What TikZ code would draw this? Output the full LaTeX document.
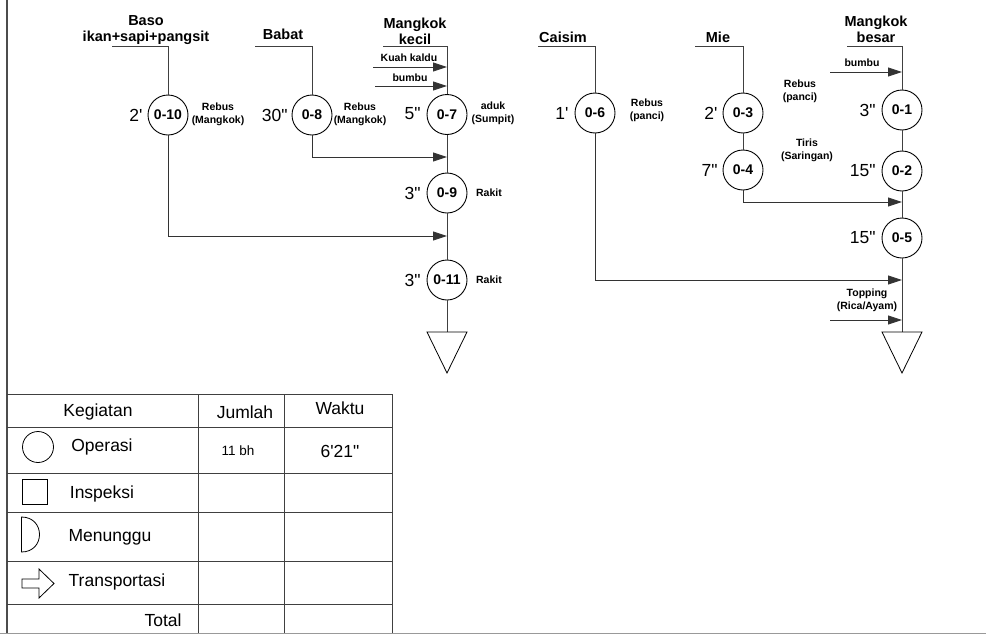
\documentclass[tikz,border=0pt]{standalone}
\usepackage{fontspec}
\setmainfont{Liberation Sans}[Ligatures=TeXOff]
\usetikzlibrary{arrows.meta}
\begin{document}
\begin{tikzpicture}[x=1pt,y=-1pt,
  line width=0.9pt,
  flow/.style={draw=black!75},
  feed/.style={draw=black!80,-{Triangle[length=14pt,width=9pt]}},
  op/.style={circle,draw=black,line width=0.9pt,minimum size=40pt,inner sep=0pt,
             font=\fontsize{14}{16}\selectfont\bfseries},
  tm/.style={anchor=east,inner sep=0pt,font=\fontsize{17.5}{19}\selectfont},
  note/.style={align=center,inner sep=0pt,font=\fontsize{10.5}{13}\selectfont\bfseries},
  src/.style={align=center,inner sep=0pt,font=\fontsize{14.5}{16}\selectfont\bfseries},
  cell/.style={inner sep=0pt,font=\fontsize{17.5}{20}\selectfont},
  grid/.style={draw=black!75,line width=1pt},
  sym/.style={draw=black,line width=0.8pt},
]
\useasboundingbox (0,0) rectangle (986,635);

% page frame
\draw[draw=black!70,line width=1.2pt] (7,0) -- (7,633);
\draw[draw=black!40,line width=1.5pt] (0,633.5) -- (986,633.5);

% ---------- Baso ----------
\node[src] (baso) at (146,30) {Baso\\ikan+sapi+pangsit};
\coordinate (basoL) at (112,46);
\coordinate (basoC) at (168,46);
\node[op] (o10) at (168,115) {0-10};
\node[tm] (t10) at (143,115) {2'};
\node[note] (n10) at (218,114) {Rebus\\(Mangkok)};
\draw[flow] (basoL) -- (basoC) -- (o10);

% ---------- Babat ----------
\node[src] (babat) at (283,34) {Babat};
\coordinate (babatL) at (255,46);
\coordinate (babatC) at (312,46);
\node[op] (o8) at (312,115) {0-8};
\node[tm] (t8) at (288,115) {30"};
\node[note] (n8) at (360,114) {Rebus\\(Mangkok)};
\draw[flow] (babatL) -- (babatC) -- (o8);

% ---------- Mangkok kecil ----------
\node[src] (mk) at (415,31) {Mangkok\\kecil};
\coordinate (mkL) at (383,46);
\coordinate (mkC) at (447,46);
\node[note] (kuah) at (409,58) {Kuah kaldu};
\coordinate (kuahL) at (373,67);
\coordinate (kuahJ) at (447,67);
\node[note] (bumbuA) at (410,78) {bumbu};
\coordinate (bumbuAL) at (375,86);
\coordinate (bumbuAJ) at (447,86);
\node[op] (o7) at (447,114.5) {0-7};
\node[tm] (t7) at (421,114) {5"};
\node[note] (n7) at (493,113) {aduk\\(Sumpit)};
\node[op] (o9) at (447,193) {0-9};
\node[tm] (t9) at (421,193) {3"};
\node[note] (n9) at (489,193) {Rakit};
\node[op] (o11) at (447,280) {0-11};
\node[tm] (t11) at (421,280) {3"};
\node[note] (n11) at (489,280) {Rakit};
\coordinate (triA) at (447,332);
\coordinate (j8) at (447,157);
\coordinate (j10) at (447,236);

\draw[flow] (mkL) -- (mkC) -- (o7);
\draw[feed] (kuahL) -- (kuahJ);
\draw[feed] (bumbuAL) -- (bumbuAJ);
\draw[flow] (o7) -- (o9);
\draw[flow] (o9) -- (o11);
\draw[flow] (o11) -- (triA);
\draw[sym] (427,332) -- (467,332) -- (447,373) -- cycle;
\draw[feed] (o8.south) |- (j8);
\draw[feed] (o10.south) |- (j10);

% ---------- Caisim ----------
\node[src] (caisim) at (563,37) {Caisim};
\coordinate (caisimL) at (538,46);
\coordinate (caisimC) at (595,46);
\node[op] (o6) at (595,113) {0-6};
\node[tm] (t6) at (569,113) {1'};
\node[note] (n6) at (647,110) {Rebus\\(panci)};
\draw[flow] (caisimL) -- (caisimC) -- (o6);

% ---------- Mie ----------
\node[src] (mie) at (718,37) {Mie};
\coordinate (mieL) at (695,46);
\coordinate (mieC) at (743,46);
\node[op] (o3) at (743,113) {0-3};
\node[tm] (t3) at (718,113) {2'};
\node[note] (n3) at (800,91) {Rebus\\(panci)};
\node[op] (o4) at (743,170) {0-4};
\node[tm] (t4) at (718,170) {7"};
\node[note] (n4) at (807,150) {Tiris\\(Saringan)};
\draw[flow] (mieL) -- (mieC) -- (o3);
\draw[flow] (o3) -- (o4);

% ---------- Mangkok besar ----------
\node[src] (mb) at (876,29) {Mangkok\\besar};
\coordinate (mbL) at (847,46);
\coordinate (mbC) at (902,46);
\node[note] (bumbuB) at (862,63) {bumbu};
\coordinate (bumbuBL) at (830,72);
\coordinate (bumbuBJ) at (902,72);
\node[op] (o1) at (902,110) {0-1};
\node[tm] (t1) at (876,110) {3"};
\node[op] (o2) at (902,171) {0-2};
\node[tm] (t2) at (876,171) {15"};
\node[op] (o5) at (902,238) {0-5};
\node[tm] (t5) at (876,238) {15"};
\node[note] (top) at (867,300) {Topping\\(Rica/Ayam)};
\coordinate (topL) at (830,320);
\coordinate (topJ) at (902,320);
\coordinate (j4) at (902,202);
\coordinate (j6) at (902,280);
\coordinate (triB) at (902,332);

\draw[flow] (mbL) -- (mbC) -- (o1);
\draw[feed] (bumbuBL) -- (bumbuBJ);
\draw[flow] (o1) -- (o2);
\draw[flow] (o2) -- (o5);
\draw[flow] (o5) -- (triB);
\draw[sym] (882,332) -- (922,332) -- (902,373) -- cycle;
\draw[feed] (o4.south) |- (j4);
\draw[feed] (o6.south) |- (j6);
\draw[feed] (topL) -- (topJ);

% ---------- summary table ----------
\draw[grid] (7,394) -- (392,394);
\foreach \yy in {427,473,512,561,604} \draw[grid] (7,\yy) -- (392,\yy);
\foreach \xx in {198,284,392} \draw[grid] (\xx,394) -- (\xx,633);

\node[cell] (hk) at (98,412) {Kegiatan};
\node[cell] (hj) at (245,412) {Jumlah};
\node[cell] (hw) at (340,408) {Waktu};

\draw[sym] (38,447) circle[radius=15.5];
\node[cell] (kop) at (102,447) {Operasi};
\node[cell,font=\fontsize{13.5}{16}\selectfont] (jop) at (238,451) {11 bh};
\node[cell] (wop) at (340,451) {6'21"};

\draw[sym] (22,479) rectangle (47,504);
\node[cell] (kin) at (102,494) {Inspeksi};

\draw[sym] (21.5,517) .. controls (45.5,517) and (45.5,552) .. (21.5,552) -- cycle;
\node[cell] (kme) at (110,537) {Menunggu};

\draw[sym] (22,579) -- (39,579) -- (39,569) -- (54,583.5) -- (39,598) -- (39,588) -- (22,588) -- cycle;
\node[cell] (ktr) at (117,582) {Transportasi};

\node[cell] (kto) at (163,620) {Total};
\end{tikzpicture}
\end{document}
